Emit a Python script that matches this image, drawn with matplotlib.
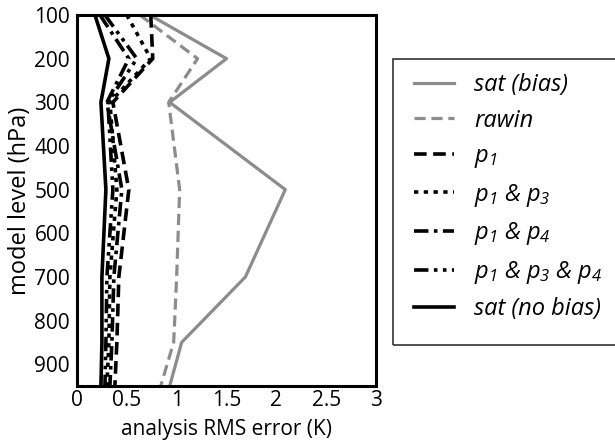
import matplotlib
matplotlib.use('Agg')
import matplotlib.pyplot as plt
from matplotlib.patches import Rectangle

plt.rcParams['font.family'] = ['Open Sans', 'DejaVu Sans']
plt.rcParams['mathtext.fontset'] = 'custom'
plt.rcParams['mathtext.it'] = 'Open Sans:italic'
plt.rcParams['mathtext.rm'] = 'Open Sans:italic'

# pressure levels (hPa) and analysis RMS error (K) per experiment
LEVELS        = [100, 200, 300, 500, 700, 850, 950]
SAT_BIAS      = [0.73, 1.50, 0.93, 2.09, 1.69, 1.05, 0.93]
RAWIN         = [0.63, 1.21, 0.92, 1.03, 1.00, 0.97, 0.84]
P1            = [0.74, 0.76, 0.36, 0.52, 0.42, 0.40, 0.38]
P1_P3         = [0.50, 0.74, 0.33, 0.40, 0.33, 0.32, 0.30]
P1_P4         = [0.23, 0.52, 0.30, 0.45, 0.37, 0.35, 0.33]
P1_P3_P4      = [0.28, 0.60, 0.31, 0.36, 0.30, 0.29, 0.28]
SAT_NO_BIAS   = [0.18, 0.32, 0.24, 0.29, 0.25, 0.25, 0.24]

GRAY = '#8c8c8c'
W, H = 615, 441

fig = plt.figure(figsize=(6.15, 4.41), dpi=100)
ax = fig.add_axes([77 / W, 1 - 386 / H, 299 / W, 371 / H])

series = [
    (SAT_BIAS,    'sat (bias)',                 GRAY,    '-',                              2.3),
    (RAWIN,       'rawin',                      GRAY,    (0, (3.5, 1.8)),                  2.3),
    (P1,          r'$p_1$',                     'black', (0, (3.5, 1.8)),                  2.6),
    (P1_P3,       r'$p_1$ & $p_3$',             'black', (0, (1.2, 1.5)),                  2.6),
    (P1_P4,       r'$p_1$ & $p_4$',             'black', (0, (4, 1.5, 1, 1.5)),            2.6),
    (P1_P3_P4,    r'$p_1$ & $p_3$ & $p_4$',     'black', (0, (4, 1.5, 1, 1.5, 1, 1.5)),    2.6),
    (SAT_NO_BIAS, 'sat (no bias)',              'black', '-',                              2.6),
]

handles = []
for vals, label, color, ls, lw in series:
    h, = ax.plot(vals, LEVELS, color=color, linestyle=ls, linewidth=lw, label=label)
    handles.append(h)

ax.set_xlim(0, 3)
ax.set_ylim(950, 100)
ax.set_xticks([0, 0.5, 1, 1.5, 2, 2.5, 3])
ax.set_xticklabels(['0', '0.5', '1', '1.5', '2', '2.5', '3'])
ax.set_yticks([100, 200, 300, 400, 500, 600, 700, 800, 900])
ax.tick_params(length=0, labelsize=15)
ax.tick_params(axis='x', pad=3)
ax.tick_params(axis='y', pad=5)
for sp in ax.spines.values():
    sp.set_linewidth(2.2)
ax.set_xlabel('analysis RMS error (K)', fontsize=15, labelpad=6)
ax.set_ylabel('model level (hPa)', fontsize=17, labelpad=2)

# legend frame drawn separately, running off the right edge like the original
fig.patches.append(Rectangle((393 / W, 1 - 345 / H), 240 / W, 286 / H,
                             transform=fig.transFigure, fill=False,
                             edgecolor='#333333', linewidth=1.2))

leg = fig.legend(handles=handles, loc='upper left',
                 bbox_to_anchor=(414 / W, 1 - 73 / H),
                 borderaxespad=0, borderpad=0, frameon=False,
                 prop={'style': 'italic', 'size': 17},
                 handlelength=1.7, handletextpad=0.85, labelspacing=0.49)

plt.savefig('out.png', dpi=100)
plt.close()
